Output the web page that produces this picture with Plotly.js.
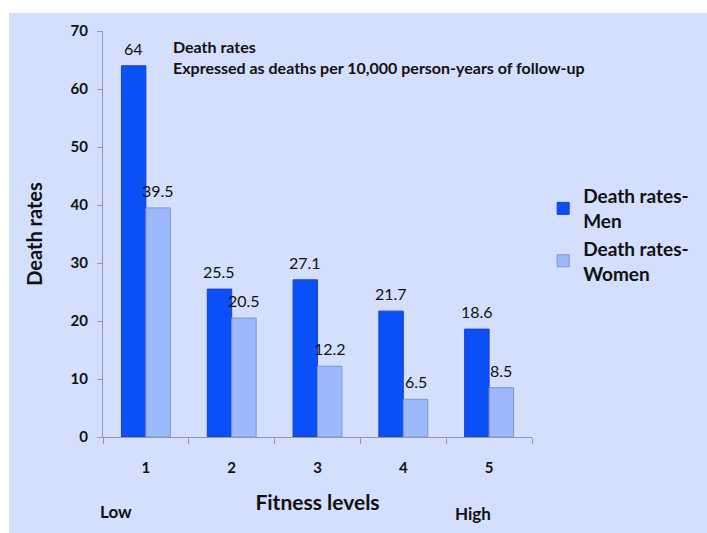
<!DOCTYPE html>
<html>
<head>
<meta charset="utf-8">
<script src="https://cdn.plot.ly/plotly-3.0.1.min.js"></script>
<style>
html,body{margin:0;padding:0;background:#ffffff;}
#chart{position:absolute;left:9px;top:13px;width:698px;height:520px;}
</style>
</head>
<body>
<div id="chart"></div>
<script>
const categories = ["1", "2", "3", "4", "5"];
const menRates = [64, 25.5, 27.1, 21.7, 18.6];
const womenRates = [39.5, 20.5, 12.2, 6.5, 8.5];
const seriesNames = ["Death rates-<br>Men", "Death rates-<br>Women"];
const yTicks = [0, 10, 20, 30, 40, 50, 60, 70];

const FONT = "Lato, Carlito, Calibri, 'DejaVu Sans', sans-serif";
const BG = "#d3dffc";

const traces = [
  {
    type: "bar", name: "<b>" + seriesNames[0] + "</b>", x: categories, y: menRates,
    marker: {color: "#0b4ff6", line: {color: "#1b40c8", width: 1}}
  },
  {
    type: "bar", name: "<b>" + seriesNames[1] + "</b>", x: categories, y: womenRates,
    marker: {color: "#9cb9fb", line: {color: "#7d95d4", width: 1}}
  }
];

// value labels placed through the axes from the data arrays
// (category axis: annotation x is the category index)
const BAR_OFFSET = 12.3;
const valueLabels = [];
[[menRates, -BAR_OFFSET], [womenRates, BAR_OFFSET]].forEach(([vals, dx]) => {
  vals.forEach((v, i) => {
    valueLabels.push({
      xref: "x", yref: "y", x: categories.indexOf(categories[i]), y: v, xshift: dx, yshift: 6,
      yanchor: "bottom", xanchor: "center", showarrow: false,
      text: String(v), font: {family: FONT, size: 16, color: "#111111"}
    });
  });
});

const layout = {
  width: 698, height: 520,
  paper_bgcolor: BG, plot_bgcolor: BG,
  margin: {l: 94, r: 175, t: 18, b: 96},
  barmode: "group", bargap: 0.43, bargroupgap: 0,
  font: {family: FONT, color: "#111111"},
  showlegend: true,
  legend: {
    x: 1.026, y: 0.64, xanchor: "left", yanchor: "top",
    bgcolor: "rgba(0,0,0,0)",
    font: {family: FONT, size: 19, color: "#111111"},
    tracegroupgap: 10, itemwidth: 30
  },
  xaxis: {
    type: "category", range: [-0.5, categories.length - 0.5],
    tickson: "boundaries", ticks: "outside", ticklen: 6, tickcolor: "#999999",
    showline: true, linecolor: "#999999", linewidth: 1,
    showgrid: false, zeroline: false,
    tickfont: {family: FONT, size: 15, weight: "bold", color: "#111111"},
    ticklabelstandoff: 17,
    title: {text: "Fitness levels", font: {family: FONT, size: 21, weight: "bold", color: "#111111"}, standoff: 20}
  },
  yaxis: {
    range: [0, 70], tickvals: yTicks, ticktext: yTicks.map(String),
    ticks: "outside", ticklen: 5, tickcolor: "#999999",
    showline: true, linecolor: "#999999", linewidth: 1,
    showgrid: false, zeroline: false,
    tickfont: {family: FONT, size: 15, weight: "bold", color: "#111111"},
    ticklabelstandoff: 6,
    title: {text: "Death rates", font: {family: FONT, size: 20, weight: "bold", color: "#111111"}, standoff: 22}
  },
  annotations: valueLabels.concat([
    {xref: "paper", yref: "paper", x: (162 - 94) / 429, y: 1 - (22 - 18) / 406, xanchor: "left", yanchor: "top",
     align: "left", showarrow: false,
     text: "Death rates<br>Expressed as deaths per 10,000 person-years of follow-up",
     font: {family: FONT, size: 16, weight: "bold", color: "#111111"}},
    {xref: "paper", yref: "paper", x: (89 - 94) / 429, y: 1 - (498 - 18) / 406, xanchor: "left", yanchor: "middle",
     showarrow: false, text: "Low", font: {family: FONT, size: 17, weight: "bold", color: "#111111"}},
    {xref: "paper", yref: "paper", x: (444 - 94) / 429, y: 1 - (500 - 18) / 406, xanchor: "left", yanchor: "middle",
     showarrow: false, text: "High", font: {family: FONT, size: 17, weight: "bold", color: "#111111"}}
  ])
};

Plotly.newPlot("chart", traces, layout, {displayModeBar: false, staticPlot: true});
</script>
</body>
</html>
